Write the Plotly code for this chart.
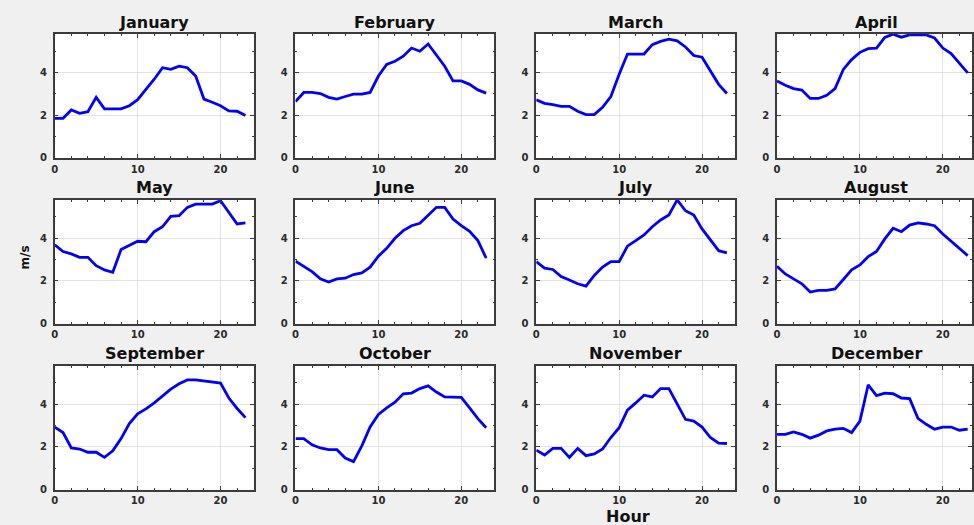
import plotly.graph_objects as go

hours = list(range(24))
months = ["January", "February", "March", "April", "May", "June",
          "July", "August", "September", "October", "November", "December"]

jan = [1.85, 1.85, 2.24, 2.08, 2.16, 2.83, 2.29, 2.29, 2.29, 2.44, 2.72, 3.21,
       3.68, 4.22, 4.14, 4.29, 4.22, 3.83, 2.75, 2.60, 2.44, 2.20, 2.18, 1.98]
feb = [2.63, 3.06, 3.06, 3.01, 2.83, 2.75, 2.87, 2.98, 2.98, 3.06, 3.83, 4.37,
       4.52, 4.76, 5.14, 4.99, 5.33, 4.83, 4.29, 3.60, 3.60, 3.44, 3.18, 3.03]
mar = [2.72, 2.55, 2.49, 2.41, 2.41, 2.18, 2.02, 2.02, 2.36, 2.87, 3.91, 4.86,
       4.86, 4.86, 5.30, 5.45, 5.56, 5.48, 5.19, 4.79, 4.71, 4.06, 3.44, 3.01]
apr = [3.60, 3.40, 3.24, 3.17, 2.78, 2.78, 2.93, 3.24, 4.14, 4.60, 4.94, 5.11,
       5.14, 5.64, 5.79, 5.65, 5.76, 5.76, 5.76, 5.61, 5.14, 4.88, 4.45, 3.98]
may = [3.69, 3.38, 3.27, 3.11, 3.11, 2.72, 2.52, 2.41, 3.47, 3.66, 3.86, 3.84,
       4.31, 4.54, 5.03, 5.06, 5.45, 5.60, 5.60, 5.60, 5.76, 5.21, 4.67, 4.72]
jun = [2.93, 2.69, 2.44, 2.10, 1.95, 2.10, 2.13, 2.30, 2.38, 2.65, 3.16, 3.53,
       4.00, 4.36, 4.59, 4.70, 5.06, 5.45, 5.45, 4.90, 4.59, 4.33, 3.89, 3.07]
jul = [2.91, 2.60, 2.54, 2.21, 2.05, 1.87, 1.76, 2.26, 2.65, 2.91, 2.91, 3.63,
       3.89, 4.16, 4.54, 4.86, 5.09, 5.80, 5.29, 5.09, 4.44, 3.92, 3.42, 3.32]
aug = [2.69, 2.33, 2.10, 1.87, 1.48, 1.56, 1.56, 1.63, 2.07, 2.52, 2.75, 3.14,
       3.38, 3.97, 4.47, 4.31, 4.62, 4.72, 4.67, 4.59, 4.20, 3.86, 3.53, 3.19]
sep = [2.93, 2.67, 1.95, 1.90, 1.75, 1.75, 1.51, 1.82, 2.39, 3.09, 3.55, 3.78,
       4.06, 4.37, 4.71, 4.96, 5.14, 5.14, 5.10, 5.03, 4.99, 4.29, 3.80, 3.37]
oct_ = [2.39, 2.39, 2.10, 1.95, 1.87, 1.87, 1.48, 1.31, 2.05, 2.93, 3.52, 3.83,
        4.09, 4.49, 4.52, 4.73, 4.86, 4.57, 4.34, 4.34, 4.32, 3.83, 3.32, 2.90]
nov = [1.85, 1.62, 1.93, 1.93, 1.51, 1.93, 1.59, 1.67, 1.90, 2.44, 2.90, 3.72,
       4.06, 4.42, 4.34, 4.73, 4.73, 3.98, 3.29, 3.21, 2.93, 2.44, 2.18, 2.16]
dec = [2.59, 2.59, 2.70, 2.59, 2.41, 2.55, 2.75, 2.83, 2.87, 2.67, 3.21, 4.91,
       4.40, 4.52, 4.49, 4.29, 4.26, 3.34, 3.06, 2.83, 2.93, 2.93, 2.78, 2.83]

series = [jan, feb, mar, apr, may, jun, jul, aug, sep, oct_, nov, dec]

W, H = 974, 525
col_left = [52, 294, 536, 778]
panel_w = 200
row_bottom = [159.3, 326.8, 494.3]
panel_h = 125
YMAX = 5.8

fig = go.Figure()
layout = dict(width=W, height=H, margin=dict(l=0, r=0, t=0, b=0),
              paper_bgcolor="#f0f0f0", plot_bgcolor="#ffffff",
              showlegend=False, annotations=[])

tickfont = dict(family="DejaVu Sans", size=10, color="#2a2a2a", weight="bold")
axcommon = dict(showline=True, linecolor="#3c3c3c", linewidth=1.5, mirror="ticks",
                ticks="inside", ticklen=4, tickwidth=1, tickcolor="#3c3c3c",
                showgrid=True, gridcolor="#e3e3e3", gridwidth=1, zeroline=False,
                tickfont=tickfont, fixedrange=True)

for i, (name, vals) in enumerate(zip(months, series)):
    r, c = divmod(i, 4)
    sfx = "" if i == 0 else str(i + 1)
    x0p = col_left[c]
    x1p = min(x0p + panel_w, W)
    xmax = 24 * (x1p - x0p) / panel_w
    ybot = row_bottom[r]
    ytop = ybot - panel_h
    fig.add_trace(go.Scatter(x=hours, y=vals, mode="lines",
                             line=dict(color="#0000ff", width=2.8),
                             xaxis="x" + sfx, yaxis="y" + sfx, hoverinfo="skip"))
    layout["xaxis" + sfx] = dict(axcommon, domain=[x0p / W, x1p / W], range=[0, xmax],
                                 anchor="y" + sfx, tick0=0, dtick=10,
                                 ticklabelstandoff=1,
                                 minor=dict(dtick=2, ticks="inside", ticklen=2,
                                            tickcolor="#3c3c3c", showgrid=False))
    layout["yaxis" + sfx] = dict(axcommon, domain=[1 - ybot / H, 1 - ytop / H],
                                 range=[0, YMAX], anchor="x" + sfx, tick0=0, dtick=2,
                                 ticklabelstandoff=4,
                                 minor=dict(dtick=1, ticks="inside", ticklen=2,
                                            tickcolor="#3c3c3c", showgrid=False))
    cx = (x0p + panel_w / 2) / W
    layout["annotations"].append(dict(
        text=name, xref="paper", yref="paper", x=cx, y=1 - (ytop - 12) / H,
        xanchor="center", yanchor="middle", showarrow=False,
        font=dict(family="DejaVu Sans", size=16, color="#111111", weight="bold")))

layout["annotations"].append(dict(
    text="m/s", xref="paper", yref="paper", x=22 / W, y=1 - 260 / H,
    xanchor="center", yanchor="middle", showarrow=False, textangle=-90,
    font=dict(family="DejaVu Sans", size=12, color="#111111", weight="bold")))
layout["annotations"].append(dict(
    text="Hour", xref="paper", yref="paper", x=628 / W, y=1 - 521 / H,
    xanchor="center", yanchor="middle", showarrow=False,
    font=dict(family="DejaVu Sans", size=16, color="#111111", weight="bold")))

fig.update_layout(**layout)
fig.write_html("out.html")
